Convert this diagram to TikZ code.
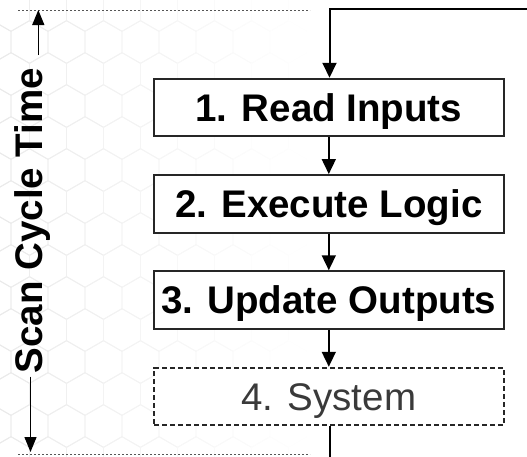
\documentclass[tikz,border=0pt]{standalone}
\usepackage{fontspec}
\setmainfont{Liberation Sans}
\usetikzlibrary{arrows.meta}
\definecolor{edge}{HTML}{262626}
\definecolor{soft}{HTML}{3A3A3A}
\definecolor{rule}{HTML}{555555}
\begin{document}
\begin{tikzpicture}[x=1pt,y=-1pt,
  stepbox/.style={draw=edge, line width=2pt, fill=white,
    minimum width=349.5pt, minimum height=57.5pt, inner sep=0pt,
    text height=27.5pt, text depth=0pt,
    font=\fontsize{38.5}{40}\selectfont\bfseries},
  sysbox/.style={stepbox, dash pattern=on 5pt off 3pt,
    font=\fontsize{38.5}{40}\selectfont, text=soft},
  flow/.style={line width=1.7pt, draw=black,
    -{Triangle[length=15pt,width=14pt]}},
  loopline/.style={line width=2pt, draw=black},
  span/.style={line width=1.3pt, draw=black,
    -{Triangle[length=15pt,width=12pt]}},
  limit/.style={line width=1pt, draw=rule, dash pattern=on 2pt off 2pt},
  hexline/.style={line width=0.9pt, line join=round}
]
\useasboundingbox (0,0) rectangle (527,456);
\clip (0,0) rectangle (527,456);

% faint honeycomb backdrop, fading out towards the right
\foreach \j in {-5,...,10} {
  \foreach \k in {-3,...,7} {
    \pgfmathsetmacro{\cx}{85+37*\k+18.5*mod(abs(\j),2)}
    \pgfmathsetmacro{\cy}{138+32*\j}
    \pgfmathsetmacro{\tone}{max(0,8*(1-\cx/300))}
    \ifdim\tone pt>0.3pt
      \draw[hexline, draw=black!\tone]
        (\cx,{\cy-21.4}) -- ({\cx+18.5},{\cy-10.7}) -- ({\cx+18.5},{\cy+10.7})
        -- (\cx,{\cy+21.4}) -- ({\cx-18.5},{\cy+10.7}) -- ({\cx-18.5},{\cy-10.7})
        -- cycle;
    \fi
  }
}

% the four stages
\node[stepbox] (read) at (328.8,107.5) {1. Read Inputs};
\node[stepbox] (exec) at (328.8,203.8) {2. Execute Logic};
\node[stepbox] (upd)  at (328.8,300)   {3. Update Outputs};
\node[sysbox]  (sys)  at (328.8,396.5) {4. System};

\draw[flow] (read) -- (exec);
\draw[flow] (exec) -- (upd);
\draw[flow] (upd) -- (sys);

% cycle return path, running off the page edges
\coordinate (loopR) at (540,9.3);
\coordinate (loopL) at (329.5,9.3);
\coordinate (loopB) at (329.5,470);
\draw[loopline] (sys.south -| loopB) -- (loopB);
\draw[flow, line width=2pt] (loopR) -- (loopL) -- (read.north -| loopL);

% start and end of the scan
\coordinate (topA) at (18,10);
\coordinate (topB) at (310,10);
\coordinate (botA) at (18,454.5);
\coordinate (botB) at (310,454.5);
\draw[limit] (topA) -- (topB);
\draw[limit] (botA) -- (botB);

% scan cycle time dimension
\node[rotate=90, anchor=base, inner sep=0pt,
      font=\fontsize{38.5}{40}\selectfont\bfseries] (scan) at (42.7,220.5) {Scan Cycle Time};
\coordinate (tipTop) at (38.3,10);
\coordinate (tipBot) at (30.5,452);
\coordinate (startTop) at (38.3,55);
\coordinate (startBot) at (30.5,376.7);
\draw[span] (startTop) -- (tipTop);
\draw[span] (startBot) -- (tipBot);
\end{tikzpicture}
\end{document}
